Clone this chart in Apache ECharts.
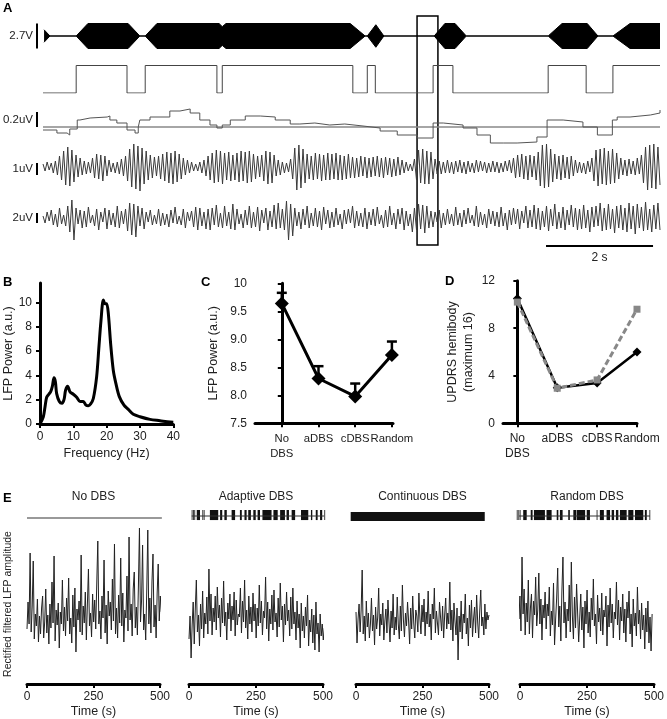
<!DOCTYPE html>
<html>
<head>
<meta charset="utf-8">
<script src="https://cdn.jsdelivr.net/npm/echarts@6/dist/echarts.min.js"></script>
<style>
html, body { margin: 0; padding: 0; background: #fff; }
#chart { width: 667px; height: 719px; }
</style>
</head>
<body>
<div id="chart"></div>
<script>
const FONT = '"Liberation Sans", Arial, sans-serif'
const NARROW = '"Liberation Sans Narrow", "Liberation Sans", Arial, sans-serif'

/* ---------- panel A : raw recording, time in s ---------- */
const A_DURATION = 11.53
// stimulation envelope, 1 = 2.7 V
const stimEnvT = [0.02, 0.13, 0.62, 0.84, 1.59, 1.81, 1.91, 2.13, 3.29, 3.35, 3.42, 5.74, 6.02, 6.06, 6.22, 6.37, 7.31, 7.51, 7.70, 7.91, 9.44, 9.70, 10.17, 10.37, 10.65, 10.97, 11.53]
const stimEnvA = [0.5, 0, 0, 1, 1, 0, 0, 1, 1, 0.75, 1, 1, 0, 0, 0.9, 0, 0, 1, 1, 0, 0, 1, 1, 0, 0, 1, 1]
// trigger (threshold crossed) on / off
const trigT = [0, 0.62, 1.57, 1.91, 3.25, 3.35, 5.79, 6.06, 6.21, 7.29, 7.66, 9.44, 10.15, 10.65, 11.53]
const trigState = [0, 1, 0, 1, 0, 1, 0, 1, 0, 1, 0, 1, 0, 1, 1]
// beta amplitude relative to threshold (15 = 0.2 uV)
const betaT = [0, 0.26, 0.45, 0.50, 0.64, 0.69, 0.88, 1.20, 1.25, 1.38, 1.57, 1.72, 1.78, 1.81, 2.00, 2.37, 2.56, 2.75, 2.93, 3.12, 3.25, 3.35, 3.50, 3.78, 4.06, 4.34, 4.62, 4.80, 5.08, 5.36, 5.64, 5.98, 6.30, 6.62, 6.99, 7.29, 7.48, 7.85, 8.11, 8.36, 8.60, 8.86, 9.23, 9.42, 9.72, 10.09, 10.36, 10.54, 10.64, 10.73, 10.97, 11.35, 11.53]
const betaV = [-3, -6, -8, -2, 7, 9, 10, 11, 7, 4, -3, -6, 0, 7, 10, 16, 18, 14, 7, 2, -1, 2, 7, 11, 10, 7, 3, 4, 2, 3, 1, -1, -4, -8, -11, 4, 2, -1, -8, -16, -16, -15, -10, 7, 5, 0, -8, -8, 7, 10, 12, 14, 17]
// filtered LFP, 1 uV = 12 units
const lfpA = [
  3, -4, 5, -3, 4, -6, 6, -8, 11, -13, 16, -18, 20, -19, 17, -15, 12, -10, 9, -8,
  6, -7, 5, -6, 9, -11, 13, -12, 12, -14, 11, -9, 7, -5, 4, -6, 5, -7, 8, -9,
  11, -14, 18, -20, 23, -22, 21, -24, 19, -17, 16, -13, 12, -11, 10, -9, 11, -12, 13, -14,
  15, -16, 14, -17, 16, -15, 13, -12, 9, -8, 7, -6, 5, -4, 3, -4, 5, -6, 7, -9,
  11, -13, 14, -16, 17, -15, 16, -17, 14, -13, 15, -14, 12, -13, 14, -15, 16, -14, 15, -16,
  16, -15, 13, -12, 11, -10, 12, -14, 16, -17, 15, -16, 12, -9, 7, -8, 5, -6, 4, -5,
  8, -12, 19, -23, 22, -21, 18, -16, 13, -12, 11, -13, 14, -12, 13, -14, 12, -13, 14, -13,
  13, -12, 14, -13, 12, -13, 11, -12, 13, -11, 10, -11, 9, -10, 11, -9, 10, -11, 9, -10,
  10, -9, 11, -10, 9, -11, 10, -8, 9, -10, 8, -9, 10, -8, 7, -6, 5, -4, 3, -4,
  8, -13, 17, -16, 18, -17, 16, -17, 15, -12, 8, -7, 6, -7, 5, -6, 7, -6, 5, -7,
  6, -5, 7, -6, 5, -7, 6, -5, 4, -6, 7, -5, 6, -4, 5, -6, 4, -5, 6, -5,
  5, -6, 4, -5, 6, -4, 7, -6, 9, -11, 12, -10, 13, -12, 11, -13, 12, -10, 11, -13,
  15, -19, 22, -21, 23, -20, 18, -15, 13, -12, 11, -13, 12, -11, 10, -12, 11, -9, 7, -6,
  5, -6, 4, -7, 6, -5, 9, -14, 17, -19, 18, -17, 19, -18, 16, -17, 18, -16, 14, -12,
  9, -8, 7, -9, 8, -7, 6, -8, 9, -7, 12, -16, 20, -23, 22, -21, 23, -22, 20, -18
]
// raw LFP, 2 uV = 10 units
const lfpB = [
  2, -5, 6, -3, 8, -7, 4, -9, 10, -6, 3, -8, 12, -14, 18, -22, 10, -6, 8, -10,
  7, -9, 11, -5, 3, -8, 9, -12, 6, -4, 10, -11, 8, -7, 5, -9, 12, -10, 7, -6,
  9, -13, 15, -17, 14, -19, 12, -8, 10, -11, 6, -4, 8, -7, 3, -6, 9, -8, 5, -7,
  4, -9, 8, -5, 11, -6, 2, -7, 9, -10, 6, -3, 7, -9, 11, -12, 10, -8, 6, -11,
  9, -12, 10, -7, 13, -9, 5, -10, 12, -8, 6, -11, 14, -12, 9, -6, 4, -10, 8, -7,
  12, -10, 6, -9, 11, -13, 8, -5, 10, -12, 7, -9, 13, -11, 15, -10, 9, -12, 17, -22,
  14, -18, 10, -8, 6, -11, 9, -7, 12, -10, 5, -8, 10, -9, 7, -12, 11, -6, 8, -10,
  6, -9, 10, -7, 4, -11, 8, -6, 9, -5, 12, -10, 7, -8, 5, -9, 10, -11, 6, -7,
  9, -8, 11, -6, 3, -10, 8, -9, 12, -7, 5, -11, 9, -6, 10, -12, 7, -8, 4, -14,
  10, -12, 14, -11, 13, -15, 12, -10, 7, -9, 6, -4, 8, -10, 5, -7, 9, -6, 4, -8,
  11, -7, 5, -9, 8, -6, 10, -5, 3, -8, 12, -9, 6, -7, 4, -10, 9, -6, 7, -8,
  6, -9, 11, -8, 5, -12, 8, -7, 10, -6, 9, -11, 7, -5, 12, -10, 8, -9, 13, -11,
  10, -12, 7, -9, 12, -13, 9, -8, 14, -11, 6, -10, 11, -12, 8, -7, 13, -9, 10, -12,
  9, -11, 13, -10, 8, -14, 11, -9, 12, -8, 15, -13, 10, -12, 14, -11, 9, -15, 12, -10,
  13, -12, 10, -14, 15, -11, 12, -16, 14, -10, 11, -13, 16, -12, 9, -14, 13, -11, 15, -12
]
const boxWindow = [6.99, 7.38]
const scaleBarSec = [9.40, 11.40]

/* ---------- panel B : power spectrum ---------- */
const freqHz = [0, 1, 1.5, 2, 2.8, 3.2, 3.7, 4.2, 4.6, 5, 5.8, 6.6, 7.2, 7.7, 8.3, 9, 10, 11, 12, 13, 13.8, 14.5, 15.2, 16, 17, 17.7, 18.3, 19, 19.5, 20, 20.5, 21.2, 22, 22.8, 23.8, 25.2, 26.5, 28, 30, 33, 36, 39, 40]
const lfpPower = [0, 0.6, 1.4, 2.2, 2.5, 2.65, 3.1, 3.8, 3.5, 2.5, 1.85, 1.7, 2.0, 2.8, 3.1, 2.65, 2.45, 2.2, 1.85, 1.85, 1.55, 1.5, 1.65, 2.1, 3.9, 6.4, 8.5, 10.2, 9.9, 9.9, 9.1, 6.6, 4.4, 3.3, 2.25, 1.55, 1.2, 0.8, 0.6, 0.38, 0.27, 0.16, 0.14]

/* ---------- panels C, D : conditions ---------- */
const conditions = ['No\nDBS', 'aDBS', 'cDBS', 'Random']
const powerMean = [9.64, 8.30, 7.98, 8.72]
const powerUpper = [9.83, 8.52, 8.21, 8.96]
const updrsBlind = [10.5, 3.0, 3.4, 6.0]
const updrsUnblind = [10.2, 2.95, 3.65, 9.6]

/* ---------- panel E : rectified LFP over 500 s ---------- */
const eTitles = ['No DBS', 'Adaptive DBS', 'Continuous DBS', 'Random DBS']
const eSpan = [[0, 505], [0, 505], [0, 500], [-12, 493]]
const eNoDbs = [
  5.5, 8.2, 6.0, 13.1, 5.2, 7.8, 12.3, 4.5, 7.0, 5.8, 8.5, 4.2, 6.8, 5.0, 7.6, 8.8, 4.6, 6.2, 9.5, 5.1,
  6.9, 4.0, 8.0, 5.6, 10.2, 6.1, 12.8, 4.3, 7.4, 5.9, 8.1, 3.6, 7.2, 6.0, 10.4, 5.3, 7.7, 4.8, 8.6, 6.3,
  10.6, 5.0, 6.6, 4.1, 8.9, 5.7, 9.6, 3.2, 7.5, 6.4, 8.3, 5.2, 12.9, 4.9, 7.8, 6.1, 9.2, 4.4, 8.0, 11.5,
  5.8, 7.1, 4.7, 9.0, 6.2, 8.4, 5.5, 10.1, 14.3, 6.0, 7.3, 4.5, 8.8, 6.6, 12.4, 5.1, 7.9, 4.0, 9.3, 6.8,
  8.2, 5.4, 10.5, 6.3, 14.0, 5.0, 7.6, 4.6, 8.9, 6.1, 12.6, 5.8, 9.1, 4.2, 7.4, 6.6, 10.8, 5.3, 14.7, 6.4,
  8.0, 4.8, 9.5, 11.2, 5.6, 7.7, 4.9, 9.8, 15.6, 6.2, 8.3, 13.9, 5.4, 7.0, 4.4, 9.4, 15.4, 6.0, 8.6, 5.1,
  10.2, 13.0, 5.7, 7.9, 4.6, 9.1, 12.0, 6.3, 8.8, 7.2
]
const eAdaptive = [
  4.5, 6.8, 2.6, 5.9, 8.2, 4.0, 7.5, 10.4, 5.2, 6.9, 3.8, 8.0, 5.5, 9.3, 4.6, 7.1, 6.0, 8.7, 5.0, 11.5,
  6.3, 9.0, 4.9, 7.6, 6.2, 8.8, 5.4, 9.7, 6.6, 7.9, 4.7, 8.6, 6.1, 10.3, 5.8, 7.2, 4.4, 8.1, 6.5, 9.0,
  5.3, 7.8, 6.4, 9.2, 4.8, 8.4, 5.9, 7.0, 6.7, 9.6, 5.1, 8.3, 6.2, 10.4, 5.6, 7.4, 4.5, 8.8, 6.0, 7.7,
  5.2, 9.1, 6.3, 8.0, 4.6, 7.6, 5.8, 9.9, 6.1, 8.3, 4.9, 7.3, 6.6, 10.7, 5.5, 8.2, 4.3, 7.5, 6.0, 8.9,
  5.4, 9.4, 6.2, 7.1, 4.7, 8.6, 5.7, 10.1, 6.4, 7.8, 4.2, 8.0, 5.9, 9.2, 6.3, 7.4, 4.8, 8.7, 5.5, 9.6,
  6.0, 7.2, 4.4, 8.3, 5.6, 7.0, 3.6, 8.1, 5.3, 6.8, 4.6, 7.7, 5.8, 8.9, 3.8, 6.4, 5.2, 7.5, 4.1, 6.9,
  3.4, 8.2, 5.0, 6.1, 3.2, 7.0, 4.8, 6.0, 4.4, 5.6
]
const eContinuous = [
  7.2, 4.1, 6.5, 8.0, 5.2, 7.4, 11.4, 5.0, 6.8, 4.3, 8.3, 5.7, 7.1, 4.6, 6.0, 8.6, 5.3, 6.9, 3.9, 7.7,
  5.5, 6.6, 9.6, 4.8, 7.0, 5.9, 8.1, 4.4, 6.3, 7.5, 5.1, 8.4, 6.2, 4.2, 7.3, 5.6, 9.0, 4.9, 6.7, 5.4,
  8.7, 6.0, 4.5, 7.8, 5.3, 9.9, 6.4, 4.7, 7.1, 5.8, 8.2, 6.3, 4.0, 7.6, 5.5, 8.8, 6.1, 4.6, 7.4, 6.8,
  5.2, 9.1, 6.6, 5.0, 7.9, 6.2, 8.5, 4.8, 7.2, 6.0, 9.3, 5.7, 7.0, 4.4, 8.0, 6.5, 9.6, 5.1, 7.3, 6.1,
  4.9, 8.2, 6.7, 5.3, 7.8, 4.6, 6.9, 8.6, 5.5, 7.1, 6.0, 10.2, 5.4, 7.4, 4.3, 8.1, 6.3, 4.9, 7.6, 2.4,
  6.8, 5.2, 8.3, 4.5, 7.0, 6.1, 9.0, 5.0, 6.6, 3.8, 7.9, 5.6, 8.4, 4.7, 6.5, 7.7, 5.1, 8.9, 6.2, 4.6,
  7.3, 9.4, 5.8, 6.7, 4.9, 8.0, 5.5, 7.2, 6.4, 6.9
]
const eRandom = [
  4.2, 12.0, 6.5, 8.8, 5.3, 12.7, 7.0, 9.5, 4.9, 8.1, 6.2, 10.4, 5.0, 7.6, 9.0, 4.6, 8.3, 6.9, 10.7, 5.8,
  7.4, 11.1, 6.0, 8.5, 4.4, 7.9, 6.6, 9.2, 5.5, 8.0, 6.8, 9.7, 4.8, 7.3, 5.9, 10.1, 3.9, 6.4, 8.6, 11.6,
  5.7, 7.8, 4.3, 9.3, 12.7, 6.1, 8.2, 4.6, 7.5, 6.3, 9.9, 5.2, 12.2, 6.8, 4.5, 8.7, 5.6, 10.0, 7.1, 4.2,
  6.6, 9.0, 5.4, 7.7, 3.6, 8.3, 6.0, 9.4, 5.1, 7.2, 4.7, 8.6, 6.4, 10.5, 5.8, 7.0, 4.0, 8.9, 6.2, 7.6,
  5.3, 9.1, 4.9, 7.4, 6.7, 8.8, 3.8, 7.9, 5.7, 9.6, 6.1, 8.0, 4.6, 7.2, 6.5, 10.2, 5.9, 8.4, 4.4, 7.7,
  6.3, 9.0, 5.1, 7.5, 4.2, 8.2, 6.6, 9.3, 5.0, 7.0, 3.7, 8.5, 5.8, 7.1, 4.8, 9.7, 6.0, 7.4, 4.5, 8.1,
  5.4, 6.9, 3.5, 7.6, 5.2, 8.3, 4.1, 6.7, 3.3, 7.0
]
// stimulation on-periods [start s, end s]
const stimAdaptive = [[10, 12], [15, 17], [20, 21], [29, 41], [50, 52], [55, 57], [78, 109], [116, 124], [132, 141], [159, 172], [190, 197], [207, 215], [221, 231], [240, 249], [256, 265], [274, 308], [315, 331], [340, 358], [364, 373], [383, 396], [418, 445], [455, 460], [473, 480], [489, 497], [505, 507]]
const stimContinuous = [[-20, 484]]
const stimRandom = [[-12, -10], [-6, -5], [-1, 0], [12, 25], [40, 47], [52, 93], [99, 118], [137, 143], [149, 159], [180, 186], [199, 209], [211, 243], [249, 261], [286, 289], [298, 313], [323, 336], [342, 351], [358, 367], [373, 398], [404, 423], [429, 460], [466, 473], [483, 485]]

/* ---------- helpers ---------- */
const sampled = (vals, t0, t1) => vals.map((v, i) => [t0 + i * (t1 - t0) / (vals.length - 1), v])
const axisLine = { lineStyle: { color: '#000', width: 3 } }
const axisTick = { length: 4, lineStyle: { color: '#000', width: 2 } }
const tickText = { color: '#222', fontSize: 12, fontFamily: FONT }
const hiddenAxis = (gridIndex, min, max) => ({ type: 'value', show: false, gridIndex, min, max, splitLine: { show: false } })

const grids = [], xAxes = [], yAxes = [], series = []

// A rows
const aRows = [
  { top: 23.5, height: 25, min: -1, max: 1 },
  { top: 65.5, height: 27.5, min: 0, max: 1 },
  { top: 105, height: 40, min: -18, max: 22 },
  { top: 143, height: 48, min: -24, max: 24 },
  { top: 194, height: 48, min: -24, max: 24 }
]
aRows.forEach((r, i) => {
  grids.push({ left: 43, width: 617, top: r.top, height: r.height })
  xAxes.push(hiddenAxis(i, 0, A_DURATION))
  yAxes.push(hiddenAxis(i, r.min, r.max))
})
const env = stimEnvT.map((t, i) => [t, stimEnvA[i]])
;[1, -1].forEach(sign => {
  series.push({
    type: 'line', xAxisIndex: 0, yAxisIndex: 0, symbol: 'none', silent: true,
    data: env.map(p => [p[0], sign * p[1]]),
    lineStyle: { color: '#000', width: 1 },
    areaStyle: { color: '#000', opacity: 1 }
  })
})
series.push({
  type: 'line', xAxisIndex: 1, yAxisIndex: 1, symbol: 'none', step: 'end',
  data: trigT.map((t, i) => [t, trigState[i]]),
  lineStyle: { color: '#444', width: 1 }
})
series.push({
  type: 'line', xAxisIndex: 2, yAxisIndex: 2, symbol: 'none',
  data: [[0, 0], [A_DURATION, 0]],
  lineStyle: { color: '#888', width: 1.5 }
})
series.push({
  type: 'line', xAxisIndex: 2, yAxisIndex: 2, symbol: 'none', step: 'end',
  data: betaT.map((t, i) => [t, betaV[i]]),
  lineStyle: { color: '#555', width: 1 }
})
series.push({
  type: 'line', xAxisIndex: 3, yAxisIndex: 3, symbol: 'none',
  data: sampled(lfpA, 0, A_DURATION), lineStyle: { color: '#3a3a3a', width: 1 }
})
series.push({
  type: 'line', xAxisIndex: 4, yAxisIndex: 4, symbol: 'none',
  data: sampled(lfpB, 0, A_DURATION), lineStyle: { color: '#3a3a3a', width: 1 }
})

// B
grids.push({ left: 40, top: 283, width: 133.3, height: 141 })
xAxes.push({
  type: 'value', gridIndex: 5, min: 0, max: 40, interval: 10,
  axisLine, axisTick, axisLabel: { ...tickText, margin: 7 }, splitLine: { show: false },
  name: 'Frequency (Hz)', nameLocation: 'middle', nameGap: 23,
  nameTextStyle: { color: '#222', fontSize: 12.5, fontFamily: FONT }
})
yAxes.push({
  type: 'value', gridIndex: 5, min: 0, max: 11.6,
  axisLine, axisTick: { ...axisTick, customValues: [0, 2, 4, 6, 8, 10] },
  axisLabel: { ...tickText, margin: 8, customValues: [0, 2, 4, 6, 8, 10] },
  splitLine: { show: false },
  name: 'LFP Power (a.u.)', nameLocation: 'middle', nameGap: 22,
  nameTextStyle: { color: '#222', fontSize: 12.5, fontFamily: FONT }
})
series.push({
  type: 'line', xAxisIndex: 5, yAxisIndex: 5, symbol: 'none', smooth: 0.3,
  data: freqHz.map((f, i) => [f, lfpPower[i]]),
  lineStyle: { color: '#000', width: 3 }
})

// C and D
const condAxis = (gridIndex, min, max, fontSize) => ({
  type: 'value', gridIndex, min, max,
  axisLine, axisTick: { ...axisTick, customValues: [0, 1, 2, 3] },
  axisLabel: {
    ...tickText, fontSize, margin: 8, lineHeight: 15, customValues: [0, 1, 2, 3],
    showMinLabel: true, showMaxLabel: true, hideOverlap: false,
    formatter: v => conditions[v]
  },
  splitLine: { show: false }
})
grids.push({ left: 255, top: 283.3, width: 138, height: 140 })
xAxes.push(condAxis(6, -0.73, 3.03, 11.3))
yAxes.push({
  type: 'value', gridIndex: 6, min: 7.5, max: 10, interval: 0.5,
  axisLine, axisTick, splitLine: { show: false },
  axisLabel: { ...tickText, margin: 8, formatter: v => (v === 10 ? '10' : v.toFixed(1)) },
  name: 'LFP Power (a.u.)', nameLocation: 'middle', nameGap: 35,
  nameTextStyle: { color: '#222', fontSize: 12.5, fontFamily: FONT }
})
series.push({
  type: 'custom', xAxisIndex: 6, yAxisIndex: 6,
  data: powerMean.map((m, i) => [i, m, powerUpper[i]]),
  encode: { x: 0, y: [1, 2] },
  renderItem: (params, api) => {
    const p0 = api.coord([api.value(0), api.value(1)])
    const p1 = api.coord([api.value(0), api.value(2)])
    const st = { stroke: '#000', lineWidth: 2.5 }
    return {
      type: 'group', children: [
        { type: 'line', shape: { x1: p0[0], y1: p0[1], x2: p1[0], y2: p1[1] }, style: st },
        { type: 'line', shape: { x1: p1[0] - 5, y1: p1[1], x2: p1[0] + 5, y2: p1[1] }, style: st }
      ]
    }
  }
})
series.push({
  type: 'line', xAxisIndex: 6, yAxisIndex: 6, symbol: 'diamond', symbolSize: 14,
  data: powerMean.map((m, i) => [i, m]),
  itemStyle: { color: '#000' }, lineStyle: { color: '#000', width: 3 }
})

grids.push({ left: 503, top: 280.7, width: 134, height: 142.6 })
xAxes.push(condAxis(7, -0.36, 3.0, 12))
yAxes.push({
  type: 'value', gridIndex: 7, min: 0, max: 12, interval: 4,
  axisLine, axisTick, splitLine: { show: false },
  axisLabel: { ...tickText, margin: 8 },
  name: 'UPDRS hemibody\n(maximum 16)', nameLocation: 'middle', nameGap: 26,
  nameTextStyle: { color: '#222', fontSize: 12.5, lineHeight: 16, fontFamily: FONT }
})
series.push({
  type: 'line', xAxisIndex: 7, yAxisIndex: 7, symbol: 'diamond', symbolSize: 9,
  data: updrsBlind.map((v, i) => [i, v]),
  itemStyle: { color: '#000' }, lineStyle: { color: '#000', width: 2.5 }
})
series.push({
  type: 'line', xAxisIndex: 7, yAxisIndex: 7, symbol: 'rect', symbolSize: 7,
  data: updrsUnblind.map((v, i) => [i, v]),
  itemStyle: { color: '#888' }, lineStyle: { color: '#888', width: 3, type: [6, 3] }
})

// E
const eLefts = [27, 189, 356, 520]
const eWidths = [133, 134, 133, 134]
const eTraces = [eNoDbs, eAdaptive, eContinuous, eRandom]
const renderSpan = (params, api) => {
  const p0 = api.coord([api.value(0), api.value(3)])
  const p1 = api.coord([api.value(1), api.value(2)])
  return {
    type: 'rect',
    shape: { x: p0[0], y: p0[1], width: Math.max(p1[0] - p0[0], 0.8), height: p1[1] - p0[1] },
    style: { fill: '#111' }
  }
}
eLefts.forEach((left, k) => {
  const gi = 8 + k
  grids.push({ left, width: eWidths[k], top: 524, height: 160 })
  xAxes.push({
    type: 'value', gridIndex: gi, min: 0, max: 500, interval: 250,
    axisLine, axisTick, axisLabel: { ...tickText, margin: 7 }, splitLine: { show: false },
    name: 'Time (s)', nameLocation: 'middle', nameGap: 21,
    nameTextStyle: { color: '#222', fontSize: 12.5, fontFamily: FONT }
  })
  yAxes.push(k === 0 ? {
    type: 'value', gridIndex: gi, min: 0, max: 16,
    axisLine: { show: false }, axisTick: { show: false }, axisLabel: { show: false }, splitLine: { show: false },
    name: 'Rectified filtered LFP amplitude', nameLocation: 'middle', nameGap: 13,
    nameTextStyle: { color: '#222', fontSize: 10.5, fontFamily: NARROW }
  } : hiddenAxis(gi, 0, 16))
  series.push({
    type: 'line', xAxisIndex: gi, yAxisIndex: gi, symbol: 'none', clip: false,
    data: sampled(eTraces[k], eSpan[k][0], eSpan[k][1]),
    lineStyle: { color: '#222', width: 1 }
  })
})
// E stimulation indicators
eLefts.forEach((left, k) => {
  const gi = 12 + k
  grids.push({ left, width: eWidths[k], top: 509, height: 14 })
  xAxes.push(hiddenAxis(gi, 0, 500))
  yAxes.push(hiddenAxis(gi, 0, 1))
})
series.push({
  type: 'line', xAxisIndex: 12, yAxisIndex: 12, symbol: 'none', clip: false,
  data: [[0, 0.36], [507, 0.36]], lineStyle: { color: '#777', width: 1.5 }
})
;[[13, stimAdaptive, 0.21, 0.93], [14, stimContinuous, 0.14, 0.79], [15, stimRandom, 0.21, 0.93]].forEach(([gi, spans, lo, hi]) => {
  if (spans.length > 1) {
    series.push({
      type: 'line', xAxisIndex: gi, yAxisIndex: gi, symbol: 'none', clip: false,
      data: [[spans[0][0], 0.5], [spans[spans.length - 1][1], 0.5]],
      lineStyle: { color: '#333', width: 1 }
    })
  }
  series.push({
    type: 'custom', xAxisIndex: gi, yAxisIndex: gi, clip: false,
    data: spans.map(s => [s[0], s[1], lo, hi]),
    encode: { x: [0, 1], y: [2, 3] },
    renderItem: renderSpan
  })
})

const chart = echarts.init(document.getElementById('chart'), null, { renderer: 'canvas' })
chart.setOption({
  backgroundColor: '#fff',
  animation: false,
  textStyle: { fontFamily: FONT },
  grid: grids,
  xAxis: xAxes,
  yAxis: yAxes,
  series
})

/* ---------- annotations placed from the axes ---------- */
const txt = (text, x, y, opts = {}) => ({
  type: 'text', silent: true,
  style: { text, x, y, fill: '#222', font: `${opts.size || 12}px ${FONT}`, textAlign: opts.align || 'left', textVerticalAlign: opts.valign || 'middle' }
})
const bold = (text, x, y) => ({
  type: 'text', silent: true,
  style: { text, x, y, fill: '#000', font: `bold 13px ${FONT}`, textAlign: 'left', textVerticalAlign: 'top' }
})
const toX = t => chart.convertToPixel({ xAxisIndex: 0 }, t)
const toY = (axis, v) => chart.convertToPixel({ yAxisIndex: axis }, v)
const graphic = []
const vBars = [[0, -1, 1, '2.7V'], [2, 0, 15, '0.2uV'], [3, -8, 4, '1uV'], [4, -5, 5, '2uV']]
vBars.forEach(([axis, v0, v1, label]) => {
  const y0 = toY(axis, v0), y1 = toY(axis, v1)
  graphic.push({ type: 'line', silent: true, shape: { x1: 37, y1: y0, x2: 37, y2: y1 }, style: { stroke: '#000', lineWidth: 2 } })
  graphic.push(txt(label, 33, (y0 + y1) / 2, { align: 'right', size: 11.5 }))
})
const bx0 = toX(boxWindow[0]), bx1 = toX(boxWindow[1])
graphic.push({ type: 'rect', silent: true, shape: { x: bx0, y: 16, width: bx1 - bx0, height: 229 }, style: { fill: 'none', stroke: '#000', lineWidth: 1.5 } })
const sx0 = toX(scaleBarSec[0]), sx1 = toX(scaleBarSec[1])
graphic.push({ type: 'line', silent: true, shape: { x1: sx0, y1: 246, x2: sx1, y2: 246 }, style: { stroke: '#000', lineWidth: 2 } })
graphic.push(txt('2 s', (sx0 + sx1) / 2, 258, { align: 'center', size: 12 }))
graphic.push(bold('A', 3, 2), bold('B', 3, 276), bold('C', 201, 276), bold('D', 445, 275), bold('E', 3, 492))
eTitles.forEach((t, k) => {
  const cx = chart.convertToPixel({ xAxisIndex: 8 + k }, 250)
  graphic.push(txt(t, cx, 497, { align: 'center', size: 12 }))
})
chart.setOption({ graphic })
</script>
</body>
</html>
